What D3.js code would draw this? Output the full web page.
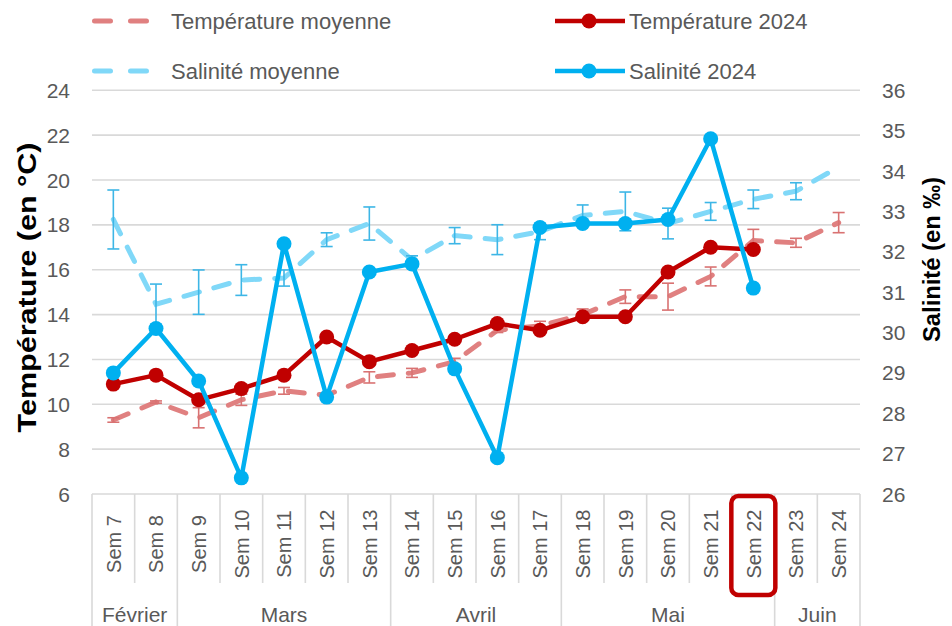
<!DOCTYPE html>
<html>
<head>
<meta charset="utf-8">
<script src="https://cdn.jsdelivr.net/npm/d3@7"></script>
<style>
  html, body { margin: 0; padding: 0; background: #fff; }
  svg { display: block; font-family: "Liberation Sans", Arial, sans-serif; }
</style>
</head>
<body>
<svg id="chart" width="952" height="626"></svg>
<script>
// ---- Data ----
const weeks = ["Sem 7","Sem 8","Sem 9","Sem 10","Sem 11","Sem 12","Sem 13","Sem 14","Sem 15",
               "Sem 16","Sem 17","Sem 18","Sem 19","Sem 20","Sem 21","Sem 22","Sem 23","Sem 24"];
const monthNames = ["Février","Mars","Avril","Mai","Juin"];
const monthSpans = [2,5,4,5,2];

const tempMoy    = [9.3,10.1,9.4,10.2,10.6,10.4,11.2,11.4,11.9,13.3,13.5,14.0,14.8,14.8,15.7,17.3,17.2,18.1];
const tempMoyErr = [0.1,0.05,0.45,0.25,0.15,0.1,0.25,0.2,0.15,0.1,0.2,0.25,0.3,0.6,0.42,0.5,0.2,0.45];
const salMoy     = [32.8,30.7,31.0,31.3,31.35,32.3,32.7,31.8,32.4,32.3,32.5,32.9,33.0,32.7,33.0,33.3,33.5,34.1];
const salMoyErr  = [0.73,0.5,0.55,0.38,0.2,0.17,0.41,0.1,0.2,0.37,0.2,0.26,0.48,0.38,0.22,0.23,0.21,0];
const temp2024   = [10.9,11.3,10.2,10.7,11.3,13.0,11.9,12.4,12.9,13.6,13.3,13.9,13.9,15.9,17.0,16.9];
const sal2024    = [29.0,30.1,28.8,26.4,32.2,28.4,31.5,31.7,29.1,26.9,32.6,32.7,32.7,32.8,34.8,31.1];

const leftTicks  = [6,8,10,12,14,16,18,20,22,24];
const rightTicks = [26,27,28,29,30,31,32,33,34,35,36];
const highlightWeek = "Sem 22";

// ---- Layout ----
const svg = d3.select("#chart");
const L = 92, R = 860, T = 90.3, B = 494;
const x = d3.scaleBand().domain(weeks).range([L, R]);
const yL = d3.scaleLinear().domain([6, 24]).range([B, T]);
const yR = d3.scaleLinear().domain([26, 36]).range([B, T]);
const cx = w => x(w) + x.bandwidth() / 2;

const COL_T = "#c00000", COL_S = "#00b0f0";
const COL_TM = "#e08080", COL_SM = "#80d8f8";
const COL_TE = "#d97272", COL_SE = "#3db6e6";
const TXT = "#595959";

// gridlines
svg.append("g").selectAll("line").data(leftTicks.slice(1)).join("line")
  .attr("x1", L).attr("x2", R)
  .attr("y1", d => yL(d)).attr("y2", d => yL(d))
  .attr("stroke", "#d9d9d9").attr("stroke-width", 1.6);

// left tick labels
svg.append("g").selectAll("text").data(leftTicks).join("text")
  .attr("x", 70).attr("y", d => yL(d)).attr("dy", "0.36em")
  .attr("text-anchor", "end").attr("font-size", 21).attr("fill", TXT)
  .text(d => d);

// right tick labels
svg.append("g").selectAll("text").data(rightTicks).join("text")
  .attr("x", 882).attr("y", d => yR(d)).attr("dy", "0.36em")
  .attr("text-anchor", "start").attr("font-size", 21).attr("fill", TXT)
  .text(d => d);

// axis titles
svg.append("text")
  .attr("transform", `translate(36,${(142+433)/2}) rotate(-90)`)
  .attr("text-anchor", "middle").attr("font-size", 25).attr("font-weight", "bold")
  .attr("fill", "#000")
  .attr("textLength", 290).attr("lengthAdjust", "spacingAndGlyphs")
  .text("Température (en °C)");
svg.append("text")
  .attr("transform", `translate(940,${(177+342)/2}) rotate(-90)`)
  .attr("text-anchor", "middle").attr("font-size", 23).attr("font-weight", "bold")
  .attr("fill", "#000")
  .attr("textLength", 165).attr("lengthAdjust", "spacingAndGlyphs")
  .text("Salinité (en ‰)");

// x axis line and category separators
const axisG = svg.append("g");
axisG.append("line").attr("x1", L).attr("x2", R).attr("y1", B).attr("y2", B)
  .attr("stroke", "#d9d9d9").attr("stroke-width", 1.6);
const boundaries = d3.range(weeks.length + 1).map(i => L + i * x.bandwidth());
const monthBounds = [0];
monthSpans.forEach((s, i) => monthBounds.push(monthBounds[i] + s));
axisG.selectAll("line.sep").data(boundaries).join("line").attr("class", "sep")
  .attr("x1", d => d).attr("x2", d => d)
  .attr("y1", B)
  .attr("y2", (d, i) => monthBounds.includes(i) ? 626 : 583)
  .attr("stroke", "#d9d9d9").attr("stroke-width", 1.6);

// week labels
axisG.selectAll("text.wk").data(weeks).join("text").attr("class", "wk")
  .attr("transform", d => `translate(${cx(d)},544) rotate(-90)`)
  .attr("text-anchor", "middle").attr("dy", "0.36em")
  .attr("font-size", 20).attr("fill", TXT)
  .text(d => d);

// month labels
axisG.selectAll("text.mo").data(monthNames).join("text").attr("class", "mo")
  .attr("x", (d, i) => L + (monthBounds[i] + monthBounds[i+1]) / 2 * x.bandwidth())
  .attr("y", 614).attr("dy", "0.36em")
  .attr("text-anchor", "middle").attr("font-size", 21).attr("fill", TXT)
  .text(d => d);

// highlight box
svg.append("rect")
  .attr("x", cx(highlightWeek) - 22).attr("y", 496)
  .attr("width", 44).attr("height", 99)
  .attr("rx", 7).attr("ry", 7)
  .attr("fill", "none").attr("stroke", COL_T).attr("stroke-width", 4.5);

// error bars helper
function errorBars(vals, errs, scale, color) {
  const g = svg.append("g").attr("stroke", color).attr("stroke-width", 1.6).attr("fill", "none");
  vals.forEach((v, i) => {
    if (!errs[i]) return;
    const xc = cx(weeks[i]);
    const y1 = scale(v - errs[i]), y2 = scale(v + errs[i]);
    g.append("line").attr("x1", xc).attr("x2", xc).attr("y1", y1).attr("y2", y2);
    g.append("line").attr("x1", xc - 6).attr("x2", xc + 6).attr("y1", y1).attr("y2", y1);
    g.append("line").attr("x1", xc - 6).attr("x2", xc + 6).attr("y1", y2).attr("y2", y2);
  });
}

const lineL = d3.line().x((d, i) => cx(weeks[i])).y(d => yL(d));
const lineR = d3.line().x((d, i) => cx(weeks[i])).y(d => yR(d));

// average lines (dashed)
svg.append("path").datum(tempMoy).attr("d", lineL)
  .attr("fill", "none").attr("stroke", COL_TM).attr("stroke-width", 5)
  .attr("stroke-dasharray", "16,15").attr("stroke-linecap", "round");
errorBars(tempMoy, tempMoyErr, yL, COL_TE);

svg.append("path").datum(salMoy).attr("d", lineR)
  .attr("fill", "none").attr("stroke", COL_SM).attr("stroke-width", 5)
  .attr("stroke-dasharray", "16,15").attr("stroke-linecap", "round");
errorBars(salMoy, salMoyErr, yR, COL_SE);

// 2024 lines
svg.append("path").datum(temp2024).attr("d", lineL)
  .attr("fill", "none").attr("stroke", COL_T).attr("stroke-width", 4.5)
  .attr("stroke-linejoin", "round");
svg.append("g").selectAll("circle").data(temp2024).join("circle")
  .attr("cx", (d, i) => cx(weeks[i])).attr("cy", d => yL(d)).attr("r", 7.5)
  .attr("fill", COL_T);

svg.append("path").datum(sal2024).attr("d", lineR)
  .attr("fill", "none").attr("stroke", COL_S).attr("stroke-width", 4.5)
  .attr("stroke-linejoin", "round");
svg.append("g").selectAll("circle").data(sal2024).join("circle")
  .attr("cx", (d, i) => cx(weeks[i])).attr("cy", d => yR(d)).attr("r", 7.5)
  .attr("fill", COL_S);

// legend
const legend = [
  {label: "Température moyenne", color: COL_TM, dashed: true, x: 92, y: 21},
  {label: "Température 2024", color: COL_T, dashed: false, x: 555, y: 21},
  {label: "Salinité moyenne", color: COL_SM, dashed: true, x: 92, y: 71},
  {label: "Salinité 2024", color: COL_S, dashed: false, x: 555, y: 71}
];
const lg = svg.append("g");
legend.forEach(d => {
  if (d.dashed) {
    lg.append("line").attr("x1", d.x + 2.5).attr("x2", d.x + 56).attr("y1", d.y).attr("y2", d.y)
      .attr("stroke", d.color).attr("stroke-width", 5)
      .attr("stroke-dasharray", "16,20").attr("stroke-linecap", "round");
    lg.append("text").attr("x", d.x + 79).attr("y", d.y).attr("dy", "0.36em")
      .attr("font-size", 22).attr("fill", TXT).text(d.label);
  } else {
    lg.append("line").attr("x1", d.x).attr("x2", d.x + 70).attr("y1", d.y).attr("y2", d.y)
      .attr("stroke", d.color).attr("stroke-width", 4.5);
    lg.append("circle").attr("cx", d.x + 34).attr("cy", d.y).attr("r", 7.5).attr("fill", d.color);
    lg.append("text").attr("x", d.x + 74).attr("y", d.y).attr("dy", "0.36em")
      .attr("font-size", 22).attr("fill", TXT).text(d.label);
  }
});
</script>
</body>
</html>
